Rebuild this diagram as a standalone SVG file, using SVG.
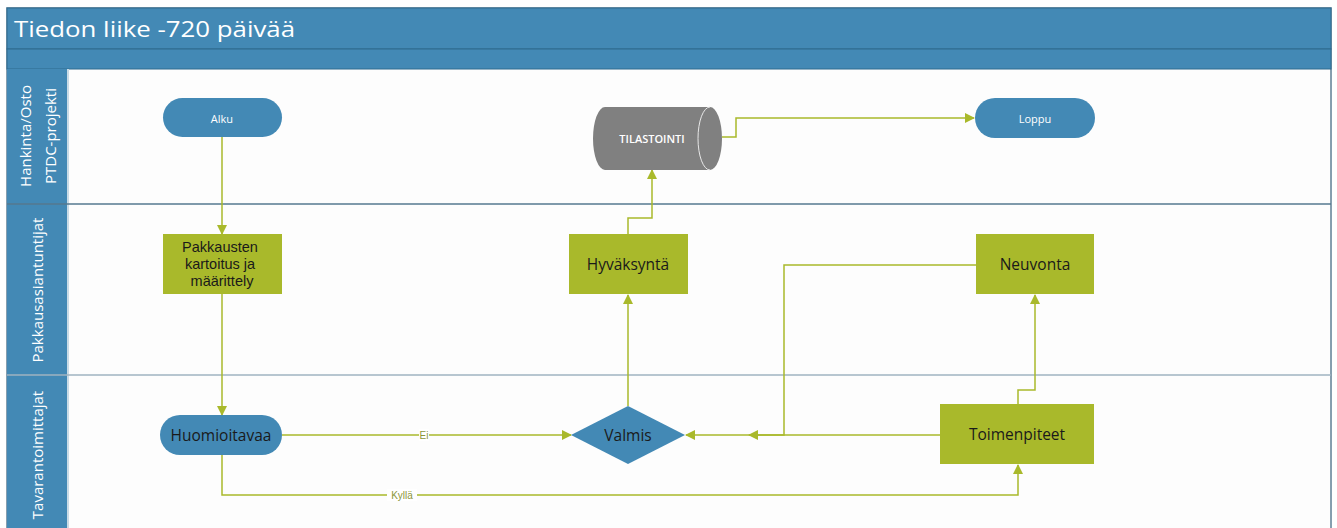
<svg xmlns="http://www.w3.org/2000/svg" width="1337" height="528" viewBox="0 0 1337 528">
  <style>
    .blue { fill: #4389b5; }
    .green { fill: #a9b92b; }
    .conn { fill: none; stroke: #a9b92b; stroke-width: 1.5; }
    .lbl { font-family: "Open Sans", "Liberation Sans", sans-serif; font-size: 15.5px; text-anchor: middle; dominant-baseline: central; }
    .multi { font-family: "Liberation Sans", sans-serif; font-size: 14.5px; }
    .dark { fill: #1a1a1a; }
    .light { fill: #ffffff; font-size: 11px; }
    .lane { font-family: "Open Sans", "Liberation Sans", sans-serif; font-size: 15px; fill: #ffffff; text-anchor: middle; dominant-baseline: central; }
    .edge { font-family: "Liberation Sans", sans-serif; font-size: 10px; fill: #8a963a; text-anchor: middle; dominant-baseline: central; }
  </style>
  <defs>
    <marker id="arrow" viewBox="0 0 10 10" refX="9" refY="5" markerWidth="10" markerHeight="10" markerUnits="userSpaceOnUse" orient="auto">
      <path d="M0,0 L10,5 L0,10 z" fill="#a9b92b"/>
    </marker>
  </defs>

  <rect width="1337" height="528" fill="#ffffff"/>

  <!-- pool frame with title bar and lane headers -->
  <g id="pool">
    <rect x="7" y="8" width="1324" height="530" fill="#fdfdfd" stroke="#5f7f95" stroke-width="1.5"/>
    <rect x="7" y="8" width="1324" height="41" class="blue" stroke="#2f6a8e" stroke-width="1"/>
    <rect x="7" y="49" width="1324" height="20" class="blue" stroke="#2f6a8e" stroke-width="1"/>
    <text x="14" y="28" font-family="Open Sans, Liberation Sans, sans-serif" font-size="22" fill="#ffffff" dominant-baseline="central" textLength="281" lengthAdjust="spacingAndGlyphs">Tiedon liike -720 päivää</text>
    <rect x="7" y="69" width="61" height="459" class="blue"/>
    <line x1="68" y1="69" x2="68" y2="528" stroke="#c9dbe6" stroke-width="2"/>
    <line x1="7" y1="204" x2="1331" y2="204" stroke="#55788f" stroke-width="1.5"/>
    <line x1="7" y1="375" x2="1331" y2="375" stroke="#9fb3c1" stroke-width="1.5"/>
    <text class="lane" transform="translate(25,136) rotate(-90)">Hankinta/Osto</text>
    <text class="lane" transform="translate(50,136) rotate(-90)">PTDC-projekti</text>
    <text class="lane" transform="translate(37,290) rotate(-90)">Pakkausasiantuntijat</text>
    <text class="lane" transform="translate(37,455) rotate(-90)">Tavarantoimittajat</text>
  </g>

  <!-- connectors -->
  <g id="connectors">
    <path class="conn" d="M222,137 V234" marker-end="url(#arrow)"/>
    <path class="conn" d="M222,294 V415" marker-end="url(#arrow)"/>
    <path class="conn" d="M282,435 H571" marker-end="url(#arrow)"/>
    <path class="conn" d="M222,455 V495 H1018 V465" marker-end="url(#arrow)"/>
    <path class="conn" d="M940,435 H686" marker-end="url(#arrow)"/>
    <path class="conn" d="M976,265 H784 V435 H749" marker-end="url(#arrow)"/>
    <path class="conn" d="M1018,404 V390 H1035 V295" marker-end="url(#arrow)"/>
    <path class="conn" d="M628,406 V295" marker-end="url(#arrow)"/>
    <path class="conn" d="M628,234 V218 H652 V170" marker-end="url(#arrow)"/>
    <path class="conn" d="M722,137 H736 V118 H974" marker-end="url(#arrow)"/>
    <rect x="419" y="429" width="10" height="12" fill="#ffffff"/>
    <text class="edge" x="424" y="435">Ei</text>
    <rect x="387" y="489" width="30" height="12" fill="#ffffff"/>
    <text class="edge" x="402" y="495">Kyllä</text>
  </g>

  <g id="alku">
    <rect x="163" y="98" width="119" height="39" rx="19.5" class="blue"/>
    <text class="lbl light" x="222" y="118">Alku</text>
  </g>

  <g id="tilastointi">
    <path d="M605,107 H710 A12,31.5 0 0 1 710,170 H605 A12,31.5 0 0 1 605,107 z" fill="#808080"/>
    <path d="M710,107 A12,31.5 0 0 0 710,170" fill="none" stroke="#e8e8e8" stroke-width="1"/>
    <text class="lbl light" x="652" y="138" font-size="9.5" font-weight="600">TILASTOINTI</text>
  </g>

  <g id="loppu">
    <rect x="975" y="98" width="120" height="40" rx="20" class="blue"/>
    <text class="lbl light" x="1035" y="118">Loppu</text>
  </g>

  <g id="pakkausten">
    <rect x="163" y="234" width="119" height="60" class="green"/>
    <text class="lbl multi dark" x="222" y="264">
      <tspan x="222" dy="-17">Pakkausten</tspan>
      <tspan x="222" dy="17">kartoitus ja</tspan>
      <tspan x="222" dy="17">määrittely</tspan>
    </text>
  </g>

  <g id="hyvaksynta">
    <rect x="569" y="234" width="119" height="60" class="green"/>
    <text class="lbl dark" x="628" y="264">Hyväksyntä</text>
  </g>

  <g id="neuvonta">
    <rect x="976" y="234" width="118" height="60" class="green"/>
    <text class="lbl dark" x="1035" y="264">Neuvonta</text>
  </g>

  <g id="huomioitavaa">
    <rect x="160" y="415" width="122" height="40" rx="20" class="blue"/>
    <text class="lbl dark" x="221" y="435">Huomioitavaa</text>
  </g>

  <g id="valmis">
    <polygon points="628,406 685,435 628,464 571,435" class="blue"/>
    <text class="lbl dark" x="628" y="435">Valmis</text>
  </g>

  <g id="toimenpiteet">
    <rect x="940" y="404" width="154" height="60" class="green"/>
    <text class="lbl dark" x="1017" y="434">Toimenpiteet</text>
  </g>
</svg>
